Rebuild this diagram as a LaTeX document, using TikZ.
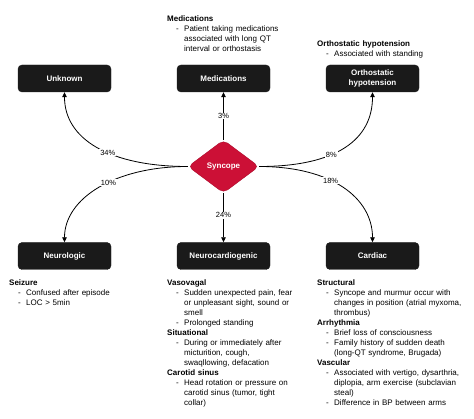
\documentclass[tikz,border=0pt]{standalone}
\usepackage{fontspec}
\setmainfont{Liberation Sans}
\usetikzlibrary{shapes.geometric,arrows.meta}
\definecolor{boxblack}{HTML}{1A1A1A}
\definecolor{synred}{HTML}{CC1036}
\newcommand{\hdr}[1]{\noindent\textbf{#1}\par}
\newcommand{\itm}[1]{\noindent\hangindent=17pt\hangafter=1\hspace*{9pt}\makebox[8pt][l]{-}#1\par}
\begin{document}
\begin{tikzpicture}[x=1pt,y=-1pt,
  catbox/.style={draw=boxblack,fill=boxblack,rounded corners=4pt,minimum width=93pt,minimum height=27pt,
    inner sep=1pt,text=white,font=\fontsize{8}{10}\selectfont\bfseries,align=center},
  syn/.style={shape=diamond,draw=synred!85!black,fill=synred,rounded corners=5pt,minimum width=71pt,minimum height=53pt,
    inner sep=0pt,text=white,font=\fontsize{8}{10}\selectfont\bfseries},
  conn/.style={line width=0.8pt,-{Triangle[width=4.5pt,length=5pt]}},
  pct/.style={fill=white,inner sep=0.8pt,font=\fontsize{7.5}{9}\selectfont},
  desc/.style={anchor=north west,inner sep=0pt,text width=150pt,font=\fontsize{8}{10}\selectfont,align=left}]
\useasboundingbox (0,0) rectangle (474,419);
\node[syn] (syn) at (223.5,166.5) {Syncope};
\node[catbox] (unk) at (64.5,78.5) {Unknown};
\node[catbox] (med) at (223.5,78.5) {Medications};
\node[catbox] (ort) at (372.5,78.5) {Orthostatic\\hypotension};
\node[catbox] (neu) at (64.5,256) {Neurologic};
\node[catbox] (ncg) at (223.5,256) {Neurocardiogenic};
\node[catbox] (car) at (372.5,256) {Cardiac};
\coordinate (sl) at (syn.west);
\coordinate (sr) at (syn.east);
\draw[conn] (syn.north) -- node[pct,pos=0.5]{3\%} (med.south);
\draw[conn] (syn.south) -- node[pct,pos=0.45]{24\%} (ncg.north);
\draw[conn] (sl) .. controls ++(-78,0) and ++(0,47) .. node[pct,pos=0.42]{34\%} (unk.south);
\draw[conn] (sl) .. controls ++(-73,0) and ++(0,-44) .. node[pct,pos=0.43]{10\%} (neu.north);
\draw[conn] (sr) .. controls ++(78,0) and ++(0,47) .. node[pct,pos=0.39]{8\%} (ort.south);
\draw[conn] (sr) .. controls ++(73,0) and ++(0,-44) .. node[pct,pos=0.4]{18\%} (car.north);
\node[desc] (dmed) at (167,16) {\hdr{Medications}\itm{Patient taking medications\newline associated with long QT\newline interval or orthostasis}};
\node[desc] (dort) at (317,41) {\hdr{Orthostatic hypotension}\itm{Associated with standing}};
\node[desc] (dneu) at (9,280) {\hdr{Seizure}\itm{Confused after episode}\itm{LOC > 5min}};
\node[desc] (dncg) at (167,280) {\hdr{Vasovagal}\itm{Sudden unexpected pain, fear\newline or unpleasant sight, sound or\newline smell}\itm{Prolonged standing}\hdr{Situational}\itm{During or immediately after\newline micturition, cough,\newline swaqllowing, defacation}\hdr{Carotid sinus}\itm{Head rotation or pressure on\newline carotid sinus (tumor, tight\newline collar)}};
\node[desc] (dcar) at (317,280) {\hdr{Structural}\itm{Syncope and murmur occur with\newline changes in position (atrial myxoma,\newline thrombus)}\hdr{Arrhythmia}\itm{Brief loss of consciousness}\itm{Family history of sudden death\newline (long-QT syndrome, Brugada)}\hdr{Vascular}\itm{Associated with vertigo, dysarthria,\newline diplopia, arm exercise (subclavian\newline steal)}\itm{Difference in BP between arms}};
\end{tikzpicture}
\end{document}
